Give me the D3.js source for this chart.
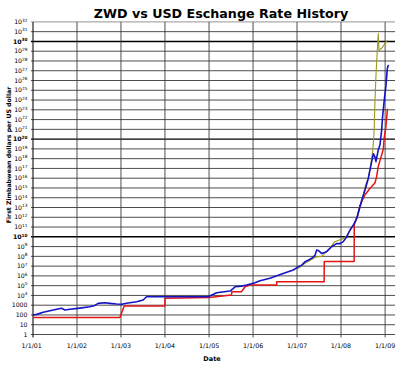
<!DOCTYPE html>
<html>
<head>
<meta charset="utf-8">
<script src="https://cdn.jsdelivr.net/npm/d3@7"></script>
<style>
  html, body { margin: 0; padding: 0; background: #fff; }
  svg { display: block; }
  text { font-family: "DejaVu Sans", Verdana, sans-serif; fill: #000; }
</style>
</head>
<body>
<svg id="chart" width="402" height="367"></svg>
<script>
// ---- data ----
const title = "ZWD vs USD Eschange Rate History";
const yTitle = "First Zimbabwean dollars per US dollar";
const xTitle = "Date";
const xTickDates = ["2001-01-01","2002-01-01","2003-01-01","2004-01-01","2005-01-01","2006-01-01","2007-01-01","2008-01-01","2009-01-01"];
const xTickLabels = ["1/1/01","1/1/02","1/1/03","1/1/04","1/1/05","1/1/06","1/1/07","1/1/08","1/1/09"];
const yExponents = d3.range(0, 33);

// Official rate (red)
const officialDates = ["2001-01-01","2002-12-23","2003-01-28","2004-01-01","2004-01-02","2005-01-01","2005-07-07","2005-07-08","2005-09-27","2005-10-27","2005-12-06","2006-07-16","2006-07-17","2007-08-14","2007-08-15","2008-04-19","2008-04-20","2008-05-15","2008-06-06","2008-07-18","2008-08-28","2008-10-08","2008-10-22","2008-11-05","2008-11-19","2008-12-03","2008-12-17","2008-12-25","2009-01-06","2009-01-15","2009-01-20"];
const officialValues = [55,55,824,824,5000,6000,1.1e4,2.4e4,2.4e4,7.8e4,1.15e5,1.15e5,2.5e5,2.5e5,3.0e7,3.0e7,2e11,1.1e12,1.6e13,2e14,9e14,3.2e15,1.3e16,1.6e17,6.3e17,2.2e18,1e19,1.6e20,1.3e21,2e22,1.3e23];

// Parallel market rate (blue)
const parallelDates = ["2001-01-01","2001-02-01","2001-03-27","2001-05-22","2001-07-16","2001-08-26","2001-09-23","2001-11-03","2002-01-25","2002-04-17","2002-05-29","2002-06-26","2002-08-20","2002-10-01","2002-11-25","2003-01-06","2003-02-17","2003-05-11","2003-07-04","2003-08-01","2004-12-25","2005-03-05","2005-06-23","2005-07-20","2005-08-04","2005-09-28","2005-11-09","2006-01-17","2006-02-28","2006-05-21","2006-09-08","2006-12-01","2007-01-11","2007-02-09","2007-03-08","2007-04-04","2007-05-03","2007-05-30","2007-06-13","2007-06-26","2007-07-24","2007-09-03","2007-10-15","2007-11-25","2007-12-23","2008-01-20","2008-02-17","2008-03-16","2008-04-13","2008-05-11","2008-06-21","2008-07-18","2008-08-15","2008-09-13","2008-09-26","2008-10-08","2008-10-17","2008-11-05","2008-11-19","2008-12-03","2008-12-11","2008-12-25","2009-01-08","2009-01-19","2009-01-28"];
const parallelValues = [100,115,186,270,380,480,320,380,500,690,950,1550,1780,1550,1320,1230,1550,2240,3400,7400,7400,1.86e4,2.8e4,5e4,7.8e4,8.9e4,1.15e5,2e5,3.2e5,5.6e5,1.8e6,4e6,8.5e6,1.26e7,2.75e7,4e7,6.3e7,1.26e8,4.4e8,4e8,2e8,3e8,9.5e8,2e9,2e9,3.2e9,1e10,5e10,1.6e11,8e11,5.6e13,6.3e14,1e16,6.3e17,3.2e18,1.6e18,5e17,8e18,2.5e19,8e20,2e22,1e24,3.2e25,1.6e27,4e27];

// Old Mutual implied rate (olive)
const impliedDates = ["2006-12-28","2007-02-09","2007-03-08","2007-05-03","2007-06-13","2007-07-24","2007-09-17","2007-11-10","2007-12-23","2008-01-20","2008-02-17","2008-03-16","2008-04-13","2008-05-11","2008-06-21","2008-07-18","2008-08-15","2008-09-05","2008-09-21","2008-10-01","2008-10-08","2008-10-17","2008-10-28","2008-11-05","2008-11-11","2008-12-03","2009-01-01","2009-01-20"];
const impliedValues = [4.7e6,1e7,2e7,5e7,8.9e7,1e8,4.4e8,3.2e9,5e9,6.3e9,1.26e10,5e10,1.6e11,8e11,4e13,1.26e15,1.26e16,3.2e17,8e18,4e20,4e23,3.2e26,1.26e29,6.3e30,1.26e29,2e29,6.3e29,1.26e30];

// ---- chart ----
const parse = d3.utcParse("%Y-%m-%d");
const svg = d3.select("#chart");
const mLeft = 33, mRight = 395, mTop = 21.9, mBottom = 334.5;

const x = d3.scaleUtc()
  .domain([parse("2001-01-01"), parse("2009-03-24")])
  .range([mLeft, mRight]);
const y = d3.scaleLog()
  .domain([1, 1e32])
  .range([mBottom, mTop]);

// horizontal grid
const grid = svg.append("g");
yExponents.forEach(e => {
  const yy = y(Math.pow(10, e));
  const major = e > 0 && e % 10 === 0;
  grid.append("line")
    .attr("x1", mLeft - 2).attr("x2", mRight)
    .attr("y1", yy).attr("y2", yy)
    .attr("stroke", major ? "#000" : (e === 32 ? "#888" : "#3a3a3a"))
    .attr("stroke-width", major ? 1.4 : 0.9);
});
// vertical grid
xTickDates.forEach((d, i) => {
  const xx = x(parse(d));
  grid.append("line")
    .attr("x1", xx).attr("x2", xx)
    .attr("y1", mTop).attr("y2", mBottom + 3)
    .attr("stroke", i === 0 ? "#222" : "#3a3a3a")
    .attr("stroke-width", i === 0 ? 1.2 : 0.9);
});

// y tick labels
const yLab = svg.append("g");
yExponents.forEach(e => {
  const yy = y(Math.pow(10, e));
  const major = e > 0 && e % 10 === 0;
  const t = yLab.append("text")
    .attr("x", 27.5).attr("y", yy + 2.2)
    .attr("text-anchor", "end")
    .attr("font-size", 6.2)
    .attr("font-weight", major ? "bold" : "normal");
  if (e <= 3) {
    t.text(String(Math.pow(10, e)));
  } else {
    t.append("tspan").text("10");
    t.append("tspan").attr("font-size", 4.3).attr("dy", -2.4).text(String(e));
  }
});

// x tick labels
xTickDates.forEach((d, i) => {
  svg.append("text")
    .attr("x", x(parse(d)) - (i === 0 ? 1.3 : 0)).attr("y", 348)
    .attr("text-anchor", "middle")
    .attr("font-size", 6.3)
    .text(xTickLabels[i]);
});

// series
const line = d3.line().x(d => x(d[0])).y(d => y(d[1]));
function series(dates, values, color, width) {
  const data = dates.map((d, i) => [parse(d), values[i]]);
  svg.append("path")
    .datum(data)
    .attr("d", line)
    .attr("fill", "none")
    .attr("stroke", color)
    .attr("stroke-width", width)
    .attr("stroke-linejoin", "round");
}
series(officialDates, officialValues, "#e41414", 1.5);
series(impliedDates, impliedValues, "#9c9a1c", 1.1);
series(parallelDates, parallelValues, "#1414c4", 1.6);

// titles
svg.append("text")
  .attr("x", 221).attr("y", 18.3)
  .attr("text-anchor", "middle")
  .attr("font-size", 12.7)
  .attr("font-weight", "bold")
  .text(title);

svg.append("text")
  .attr("transform", "translate(11,155) rotate(-90)")
  .attr("text-anchor", "middle")
  .attr("font-size", 6.2)
  .attr("font-weight", "bold")
  .text(yTitle);

svg.append("text")
  .attr("x", 212).attr("y", 361)
  .attr("text-anchor", "middle")
  .attr("font-size", 6.5)
  .attr("font-weight", "bold")
  .text(xTitle);
</script>
</body>
</html>
